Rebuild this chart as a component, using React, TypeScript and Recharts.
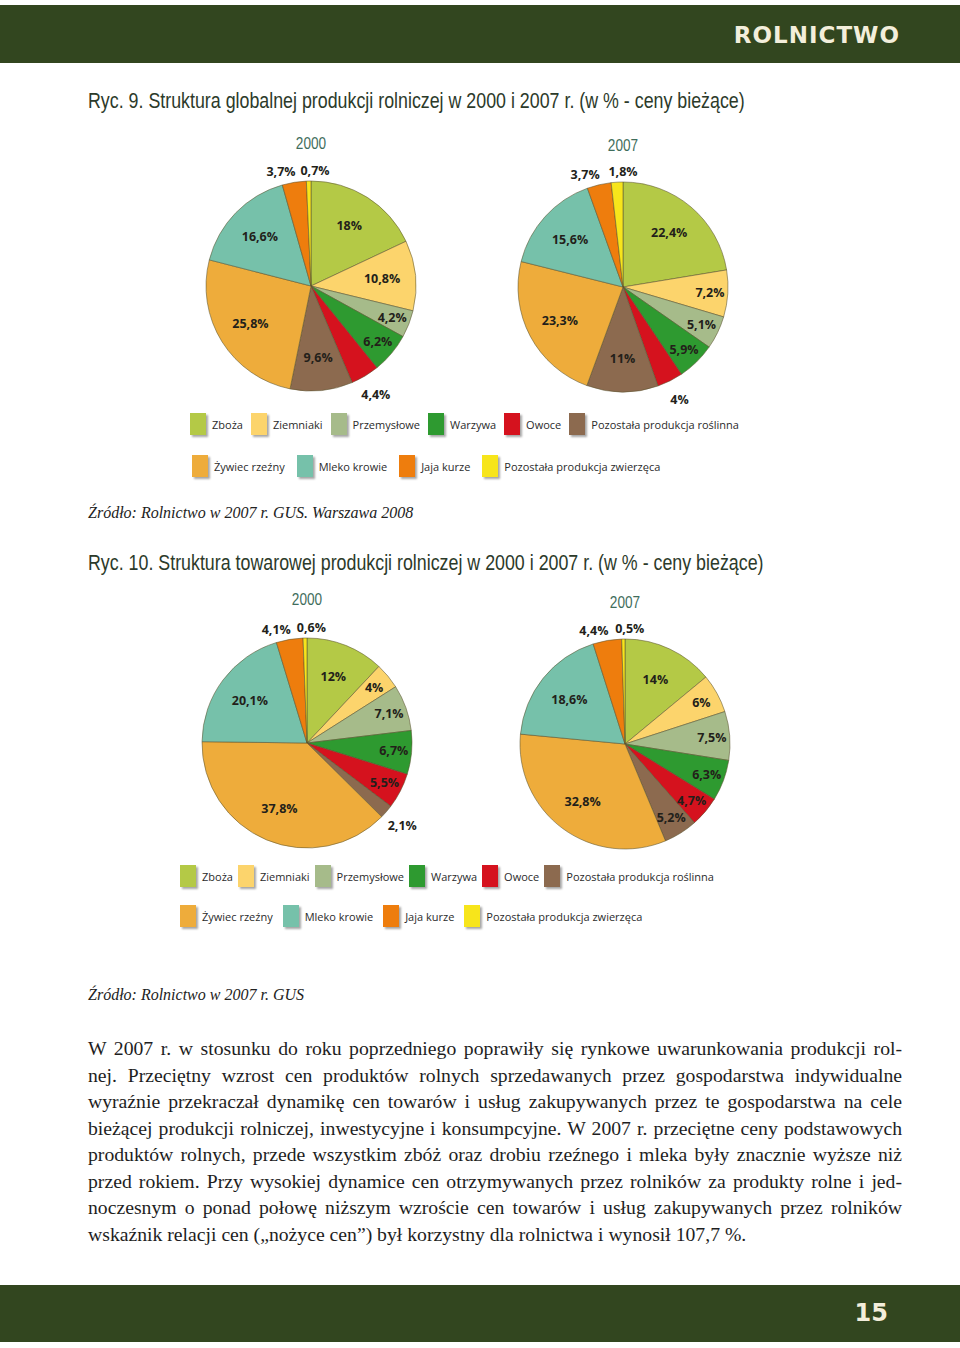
import { Cell, Pie, PieChart } from "recharts"

const categories = [
  "Zboża",
  "Ziemniaki",
  "Przemysłowe",
  "Warzywa",
  "Owoce",
  "Pozostała produkcja roślinna",
  "Żywiec rzeźny",
  "Mleko krowie",
  "Jaja kurze",
  "Pozostała produkcja zwierzęca",
]

const colors = [
  "#b4c946",
  "#fcd46c",
  "#a6bb8a",
  "#2e9a30",
  "#d5121e",
  "#8c6a4f",
  "#eeac3b",
  "#76c1aa",
  "#ee7d0d",
  "#f7e51b",
]

// Ryc. 9 – produkcja globalna
const globalna2000 = [18, 10.8, 4.2, 6.2, 4.4, 9.6, 25.8, 16.6, 3.7, 0.7]
const globalna2007 = [22.4, 7.2, 5.1, 5.9, 4, 11, 23.3, 15.6, 3.7, 1.8]

// Ryc. 10 – produkcja towarowa
const towarowa2000 = [12, 4, 7.1, 6.7, 5.5, 2.1, 37.8, 20.1, 4.1, 0.6]
const towarowa2007 = [14, 6, 7.5, 6.3, 4.7, 5.2, 32.8, 18.6, 4.4, 0.5]

const legendRow1 = [0, 1, 2, 3, 4, 5]
const legendRow2 = [6, 7, 8, 9]

const paragraph = [
  "W 2007 r. w stosunku do roku poprzedniego poprawiły się rynkowe uwarunkowania produkcji rol-",
  "nej. Przeciętny wzrost cen produktów rolnych sprzedawanych przez gospodarstwa indywidualne",
  "wyraźnie przekraczał dynamikę cen towarów i usług zakupywanych przez te gospodarstwa na cele",
  "bieżącej produkcji rolniczej, inwestycyjne i konsumpcyjne. W 2007 r. przeciętne ceny podstawowych",
  "produktów rolnych, przede wszystkim zbóż oraz drobiu rzeźnego i mleka były znacznie wyższe niż",
  "przed rokiem. Przy wysokiej dynamice cen otrzymywanych przez rolników za produkty rolne i jed-",
  "noczesnym o ponad połowę niższym wzroście cen towarów i usług zakupywanych przez rolników",
  "wskaźnik relacji cen („nożyce cen”) był korzystny dla rolnictwa i wynosił 107,7 %.",
]

const GREEN = "#32461f"
const SANS = "'Open Sans', 'Noto Sans', sans-serif"
const RAD = Math.PI / 180

const fmt = (v: number) => String(v).replace(".", ",") + "%"

function renderLabel(props: any) {
  const { cx, cy, midAngle, outerRadius, index, value } = props
  const outside = value < 4.5 && index >= 3
  const k = !outside ? (value < 8 ? 0.83 : 0.68) : index >= 8 ? 1.1 : 1.2
  const r = outerRadius * k
  let x = cx + r * Math.cos(-midAngle * RAD)
  const y = cy + r * Math.sin(-midAngle * RAD)
  let anchor: "middle" | "start" | "end" = "middle"
  if (index === 8) {
    anchor = "end"
    x += 3
  } else if (index === 9) {
    anchor = "start"
    x -= 8
  }
  return (
    <text
      x={x}
      y={y}
      textAnchor={anchor}
      dominantBaseline="central"
      fontFamily={SANS}
      fontWeight={700}
      fontSize={12.5}
      fill="#231f1a"
    >
      {fmt(value)}
    </text>
  )
}

function YearPie({
  values,
  year,
  cx,
  cy,
  yearY,
}: {
  values: number[]
  year: string
  cx: number
  cy: number
  yearY: number
}) {
  const data = categories.map((name, i) => ({ name, value: values[i] }))
  return (
    <>
      <div
        style={{
          position: "absolute",
          left: cx - 40,
          top: yearY - 10,
          width: 80,
          textAlign: "center",
          fontFamily: "'Liberation Sans', sans-serif",
          fontSize: 16,
          lineHeight: "20px",
          color: "#3f6d5c",
          transform: "scaleX(0.85)",
        }}
      >
        {year}
      </div>
      <div style={{ position: "absolute", left: cx - 150, top: cy - 150 }}>
        <PieChart width={300} height={300} margin={{ top: 0, right: 0, bottom: 0, left: 0 }}>
          <Pie
            data={data}
            dataKey="value"
            cx={150}
            cy={150}
            outerRadius={105}
            startAngle={90}
            endAngle={-270}
            stroke="#5b5330"
            strokeOpacity={0.55}
            strokeWidth={1}
            label={renderLabel}
            labelLine={false}
            isAnimationActive={false}
          >
            {data.map((d, i) => (
              <Cell key={d.name} fill={colors[i]} />
            ))}
          </Pie>
        </PieChart>
      </div>
    </>
  )
}

function LegendRow({
  items,
  left,
  cy,
  gap,
}: {
  items: number[]
  left: number
  cy: number
  gap: number
}) {
  return (
    <div
      style={{
        position: "absolute",
        left,
        top: cy - 12,
        height: 24,
        display: "flex",
        alignItems: "center",
        fontFamily: SANS,
        fontSize: 11,
        color: "#2b2b2b",
        whiteSpace: "nowrap",
      }}
    >
      {items.map((i) => (
        <div key={i} style={{ display: "flex", alignItems: "center", marginRight: gap }}>
          <div
            style={{
              width: 16,
              height: 22,
              background: colors[i],
              boxShadow: "2px 2px 2px rgba(0,0,0,0.35)",
              marginRight: 6,
            }}
          />
          <span>{categories[i]}</span>
        </div>
      ))}
    </div>
  )
}

function Title({ text, top }: { text: string; top: number }) {
  return (
    <div
      style={{
        position: "absolute",
        left: 88,
        top,
        fontFamily: "'Liberation Sans', sans-serif",
        fontSize: 22,
        lineHeight: "26px",
        color: "#2c3a2a",
        whiteSpace: "nowrap",
        transform: "scaleX(0.81)",
        transformOrigin: "0 50%",
      }}
    >
      {text}
    </div>
  )
}

function Source({ text, top }: { text: string; top: number }) {
  return (
    <div
      style={{
        position: "absolute",
        left: 88,
        top,
        fontFamily: "'Liberation Serif', serif",
        fontStyle: "italic",
        fontSize: 16,
        lineHeight: "20px",
        color: "#222",
        whiteSpace: "nowrap",
      }}
    >
      {text}
    </div>
  )
}

export default function App() {
  return (
    <div
      style={{
        position: "absolute",
        left: 0,
        top: 0,
        width: 960,
        height: 1348,
        background: "#fff",
        overflow: "hidden",
      }}
    >
      <div style={{ position: "absolute", left: 0, top: 5, width: 960, height: 58, background: GREEN }}>
        <div
          style={{
            position: "absolute",
            right: 60,
            top: 17,
            fontFamily: "'DejaVu Sans', sans-serif",
            fontWeight: 700,
            fontSize: 23,
            lineHeight: "26px",
            letterSpacing: 1,
            color: "#f3eedb",
          }}
        >
          ROLNICTWO
        </div>
      </div>

      <Title text="Ryc. 9. Struktura globalnej produkcji rolniczej w 2000 i 2007 r. (w % - ceny bieżące)" top={88} />
      <YearPie values={globalna2000} year="2000" cx={311} cy={286} yearY={144} />
      <YearPie values={globalna2007} year="2007" cx={623} cy={287} yearY={146} />
      <LegendRow items={legendRow1} left={190} cy={424} gap={8} />
      <LegendRow items={legendRow2} left={192} cy={466} gap={12} />
      <Source text="Źródło: Rolnictwo w 2007 r. GUS. Warszawa 2008" top={503} />

      <Title text="Ryc. 10. Struktura towarowej produkcji rolniczej w 2000 i 2007 r. (w % - ceny bieżące)" top={550} />
      <YearPie values={towarowa2000} year="2000" cx={307} cy={743} yearY={600} />
      <YearPie values={towarowa2007} year="2007" cx={625} cy={744} yearY={603} />
      <LegendRow items={legendRow1} left={180} cy={876} gap={5} />
      <LegendRow items={legendRow2} left={180} cy={916} gap={10} />
      <Source text="Źródło: Rolnictwo w 2007 r. GUS" top={985} />

      <div
        style={{
          position: "absolute",
          left: 88,
          top: 1035,
          width: 814,
          fontFamily: "'Liberation Serif', serif",
          fontSize: 19.7,
          lineHeight: "26.5px",
          color: "#1e1e1e",
        }}
      >
        {paragraph.map((line, i) => (
          <div
            key={i}
            style={{
              textAlign: "justify",
              textAlignLast: i < paragraph.length - 1 ? "justify" : "left",
              whiteSpace: "nowrap",
            }}
          >
            {line}
          </div>
        ))}
      </div>

      <div style={{ position: "absolute", left: 0, top: 1285, width: 960, height: 57, background: GREEN }}>
        <div
          style={{
            position: "absolute",
            right: 72,
            top: 14,
            fontFamily: "'DejaVu Sans', sans-serif",
            fontWeight: 700,
            fontSize: 24,
            lineHeight: "28px",
            color: "#f3eedb",
          }}
        >
          15
        </div>
      </div>
    </div>
  )
}
